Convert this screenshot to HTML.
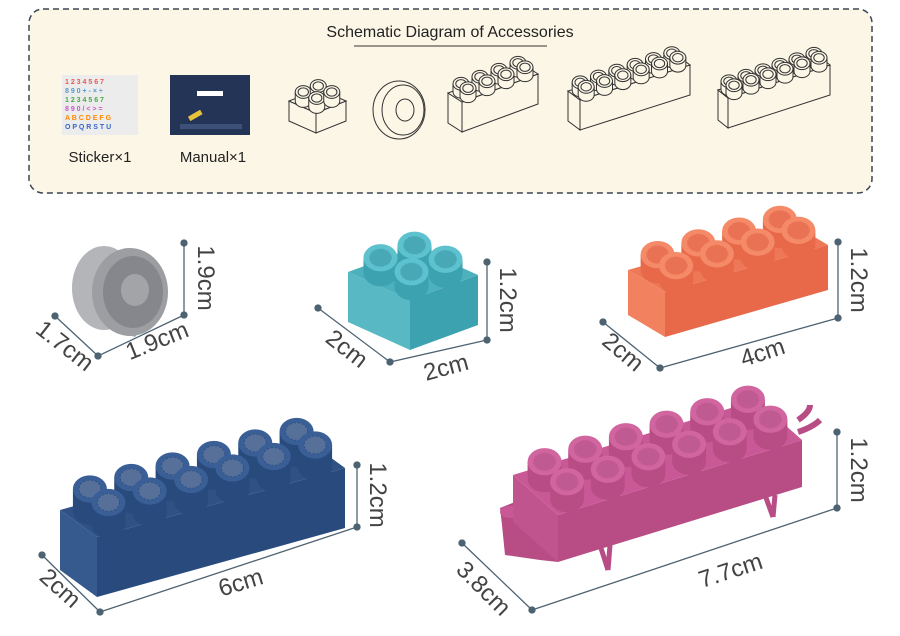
<!DOCTYPE html>
<html><head><meta charset="utf-8"><style>
html,body{margin:0;padding:0;background:#fff;width:900px;height:636px;overflow:hidden}
svg{display:block}
text{font-family:"Liberation Sans",sans-serif}
</style></head><body>
<svg id="s" width="900" height="636" viewBox="0 0 900 636" xmlns="http://www.w3.org/2000/svg">
<rect x="29" y="9" width="843" height="184" rx="14" fill="#fbf6e6" stroke="#3a4552" stroke-width="1.5" stroke-dasharray="6,4"/>
<text x="450" y="37" font-size="16" text-anchor="middle" fill="#222">Schematic Diagram of Accessories</text>
<line x1="354" y1="46" x2="547" y2="46" stroke="#333" stroke-width="1"/>
<rect x="62" y="75" width="76" height="60" fill="#ececec"/>
<g font-size="7" font-weight="bold">
<text x="65" y="84" fill="#e55">1 2 3 4 5 6 7</text><text x="65" y="93" fill="#59c">8 9 0 + - × ÷</text>
<text x="65" y="102" fill="#4a4">1 2 3 4 5 6 7</text><text x="65" y="111" fill="#c5c">8 9 0 / &lt; &gt; =</text>
<text x="65" y="120" fill="#f80">A B C D E F G</text><text x="65" y="129" fill="#36c">O P Q R S T U</text></g>
<rect x="170" y="75" width="80" height="60" fill="#233457"/>
<rect x="197" y="91" width="26" height="5" fill="#fff"/><rect x="188" y="113" width="14" height="5" fill="#e8c23a" transform="rotate(-30 195 115)"/>
<rect x="180" y="124" width="62" height="5" fill="#3d5078"/>
<text x="100" y="162" font-size="15" text-anchor="middle" fill="#222">Sticker×1</text>
<text x="213" y="162" font-size="15" text-anchor="middle" fill="#222">Manual×1</text>
<ellipse cx="399" cy="110" rx="26" ry="29" fill="#fbf6e6" stroke="#333"/>
<ellipse cx="403" cy="110" rx="21" ry="25" fill="none" stroke="#333"/>
<ellipse cx="405" cy="110" rx="9" ry="11" fill="none" stroke="#333"/>
<g id="g"></g>
<g stroke="#4d6372" stroke-width="1.3" fill="#4d6372">
<path d="M184 243V315M55 316L98 356L184 315" fill="none"/>
<circle cx="184" cy="243" r="3"/><circle cx="184" cy="315" r="3"/><circle cx="55" cy="316" r="3"/><circle cx="98" cy="356" r="3"/>
<path d="M487 262V340M318 308L390 362L487 340" fill="none"/>
<circle cx="487" cy="262" r="3"/><circle cx="487" cy="340" r="3"/><circle cx="318" cy="308" r="3"/><circle cx="390" cy="362" r="3"/>
<path d="M838 242V318M603 322L660 368L838 318" fill="none"/>
<circle cx="838" cy="242" r="3"/><circle cx="838" cy="318" r="3"/><circle cx="603" cy="322" r="3"/><circle cx="660" cy="368" r="3"/>
<path d="M357 465V527M42 555L100 612L357 527" fill="none"/>
<circle cx="357" cy="465" r="3"/><circle cx="357" cy="527" r="3"/><circle cx="42" cy="555" r="3"/><circle cx="100" cy="612" r="3"/>
<path d="M837 432V508M462 543L532 610L837 508" fill="none"/>
<circle cx="837" cy="432" r="3"/><circle cx="837" cy="508" r="3"/><circle cx="462" cy="543" r="3"/><circle cx="532" cy="610" r="3"/>
</g>
<g font-size="24" fill="#444" text-anchor="middle">
<text transform="translate(198,278) rotate(90)">1.9cm</text>
<text transform="translate(60,352) rotate(38)">1.7cm</text>
<text transform="translate(160,348) rotate(-22)">1.9cm</text>
<text transform="translate(500,300) rotate(90)">1.2cm</text>
<text transform="translate(342,355) rotate(38)">2cm</text>
<text transform="translate(448,375) rotate(-15)">2cm</text>
<text transform="translate(851,280) rotate(90)">1.2cm</text>
<text transform="translate(618,358) rotate(40)">2cm</text>
<text transform="translate(765,360) rotate(-18)">4cm</text>
<text transform="translate(370,495) rotate(90)">1.2cm</text>
<text transform="translate(55,594) rotate(42)">2cm</text>
<text transform="translate(243,590) rotate(-17)">6cm</text>
<text transform="translate(851,470) rotate(90)">1.2cm</text>
<text transform="translate(478,594) rotate(45)">3.8cm</text>
<text transform="translate(733,578) rotate(-18)">7.7cm</text>
</g>
</svg>
<script>
var g=document.getElementById('g'),out='';
function P(a){return a.map(function(p){return p[0].toFixed(1)+','+p[1].toFixed(1)}).join(' ')}
function brick(A,L,D,H,n,m,r,h,c,st,sw){
 var s=st?' stroke="'+st+'" stroke-width="'+sw+'"':'';
 function ad(p,q,k){k=k==null?1:k;return [p[0]+q[0]*k,p[1]+q[1]*k]}
 var B=ad(A,L),AD=ad(A,D),BD=ad(B,D);
 out+='<polygon points="'+P([A,AD,ad(AD,H),ad(A,H)])+'" fill="'+c[2]+'"'+s+'/>';
 out+='<polygon points="'+P([A,B,ad(B,H),ad(A,H)])+'" fill="'+c[1]+'"'+s+'/>';
 out+='<polygon points="'+P([A,B,BD,AD])+'" fill="'+c[0]+'"'+s+'/>';
 var st2=[];
 for(var j=m-1;j>=0;j--)for(var i=0;i<n;i++){var p=ad(ad(A,L,(i+.5)/n),D,(j+.5)/m);st2.push(p)}
 st2.forEach(function(p){
  var x=p[0],y=p[1],ry=r*.8;
  out+='<path d="M'+(x-r)+','+y+'V'+(y-h)+'H'+(x+r)+'V'+y+'A'+r+','+ry+' 0 0 1 '+(x-r)+','+y+'Z" fill="'+c[1]+'"'+s+'/>';
  out+='<ellipse cx="'+x+'" cy="'+(y-h)+'" rx="'+r+'" ry="'+ry+'" fill="'+c[3]+'"'+s+'/>';
  out+='<ellipse cx="'+x+'" cy="'+(y-h)+'" rx="'+(r*.65)+'" ry="'+(ry*.65)+'" fill="'+c[4]+'"'+(st?' stroke="'+st+'" stroke-width="'+sw+'"':' stroke="'+c[0]+'" stroke-width="1" stroke-dasharray="2,2"')+'/>';
 });
}
var ol=['#fbf6e6','#fbf6e6','#fbf6e6','#fbf6e6','#fbf6e6'];
brick([316,113],[30,-12],[-27,-12],[0,20],2,2,8,9,ol,'#333',1);
brick([462,102],[76,-28],[-14,-9],[0,30],4,2,8,8,ol,'#333',1);
brick([580,100],[110,-35],[-12,-9],[0,30],6,2,8,8,ol,'#333',1);
brick([728,98],[102,-33],[-10,-8],[0,30],6,2,8,8,ol,'#333',1);
out+='<path d="M100,250 L125,262 A36,45 0 0 1 135,337 L105,327 A36,45 0 0 1 100,250Z" fill="#a5a7ab"/>';
out+='<ellipse cx="104" cy="288" rx="32" ry="42" fill="#b3b5b9"/>';
out+='<ellipse cx="130" cy="292" rx="38" ry="44" fill="#9c9ea2"/>';
out+='<ellipse cx="133" cy="292" rx="30" ry="36" fill="#85878c"/>';
out+='<ellipse cx="135" cy="290" rx="14" ry="16" fill="#a2a4a8"/>';
brick([410,300],[68,-25],[-62,-28],[0,50],2,2,17,15,['#4db0bd','#3ca2b0','#58b9c5','#5ec2ce','#48a8b5']);
brick([665,292],[163,-47],[-37,-22],[0,45],4,2,17,15,['#ee7758','#e8694a','#f2825f','#f58a68','#ea7254']);
brick([97,537],[248,-69],[-37,-27],[0,60],6,2,17,22,['#2f5184','#284a7c','#36598e','#3a5f96','#56709a']);
out+='<polygon points="500,508 520,500 558,530 558,562 540,560 505,555 502,525" fill="#b84d86"/><ellipse cx="510" cy="512" rx="10" ry="6" fill="#c95996"/>';
out+='<path d="M798,432 q15,-5 22,-12 M798,420 q12,-8 12,-15" stroke="#b84d86" stroke-width="6" fill="none"/>';
brick([558,515],[244,-75],[-45,-40],[0,47],6,2,17,17,['#c95996','#b84d86','#c0548f','#d0659f','#c05a92']);
out+='<path d="M600,545 l8,25 M610,545 l-2,25 M765,495 l8,22 M775,495 l-2,22" stroke="#b84d86" stroke-width="5" fill="none"/>';
g.innerHTML=out;
</script>
</body></html>
